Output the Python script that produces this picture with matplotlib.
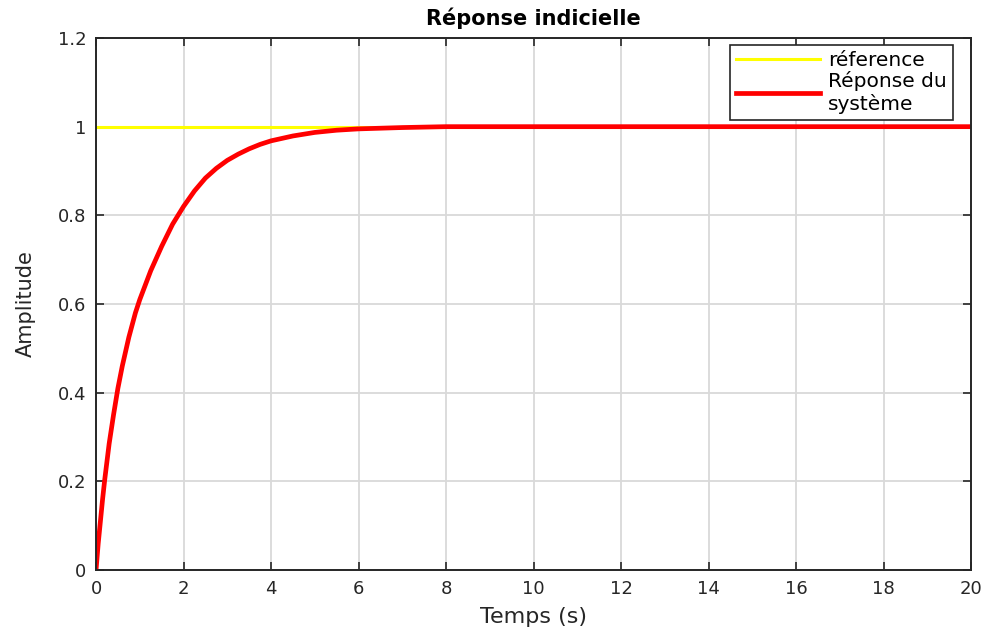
import matplotlib
matplotlib.use('Agg')
import matplotlib.pyplot as plt
import numpy as np

# temps (s) et réponse
temps = [0, 0.05, 0.1, 0.15, 0.2, 0.3, 0.4, 0.5, 0.6, 0.75, 0.9, 1, 1.25, 1.5, 1.75, 2, 2.25, 2.5,
         2.75, 3, 3.25, 3.5, 3.75, 4, 4.5, 5, 5.5, 6, 7, 8, 9, 10, 12, 14, 16, 18, 20]
reponse = [0, 0.06, 0.11, 0.16, 0.205, 0.285, 0.35, 0.41, 0.46, 0.525, 0.58, 0.61, 0.675, 0.73,
           0.78, 0.82, 0.855, 0.884, 0.906, 0.924, 0.938, 0.95, 0.96, 0.968, 0.979, 0.987, 0.992,
           0.995, 0.998, 1.0, 1.0, 1.0, 1.0, 1.0, 1.0, 1.0, 1.0]
ref_t = [0, 20]
ref_y = [1, 1]

xticks = np.arange(0, 21, 2)
yticks = [0, 0.2, 0.4, 0.6, 0.8, 1, 1.2]
ytick_labels = ['0', '0.2', '0.4', '0.6', '0.8', '1', '1.2']

plt.rcParams['font.family'] = ['DejaVu Sans']

fig = plt.figure(figsize=(9.86, 6.29), dpi=100)
ax = fig.add_axes([0.0974, 0.0938, 0.8874, 0.8458])

ax.plot(ref_t, ref_y, color='#ffff00', lw=2.2, label='réference')
ax.plot(temps, reponse, color='#ff0000', lw=3.4, label='Réponse du\nsystème')

ax.set_xlim(0, 20)
ax.set_ylim(0, 1.2)
ax.set_xticks(xticks)
ax.set_yticks(yticks)
ax.set_yticklabels(ytick_labels)
ax.grid(True, color='#d9d9d9', lw=1.3)
ax.tick_params(direction='in', length=6, width=1.2, top=True, right=True,
               labelsize=13, colors='#262626', pad=7)
for s in ax.spines.values():
    s.set_linewidth(1.4)
    s.set_color('#262626')

ax.set_title('Réponse indicielle', fontsize=15, fontweight='bold', pad=9)
ax.set_xlabel('Temps (s)', fontsize=16, color='#262626', labelpad=7)
ax.set_ylabel('Amplitude', fontsize=15, color='#262626', labelpad=16)

leg = ax.legend(loc='upper right', fontsize=14.5, handlelength=4.2, handletextpad=0.4,
                fancybox=False, framealpha=1, edgecolor='#262626', borderaxespad=0,
                borderpad=0.3, labelspacing=0.05, bbox_to_anchor=(0.9794, 0.9868))
leg.get_frame().set_linewidth(1.2)

plt.savefig('out.png')
plt.close()
